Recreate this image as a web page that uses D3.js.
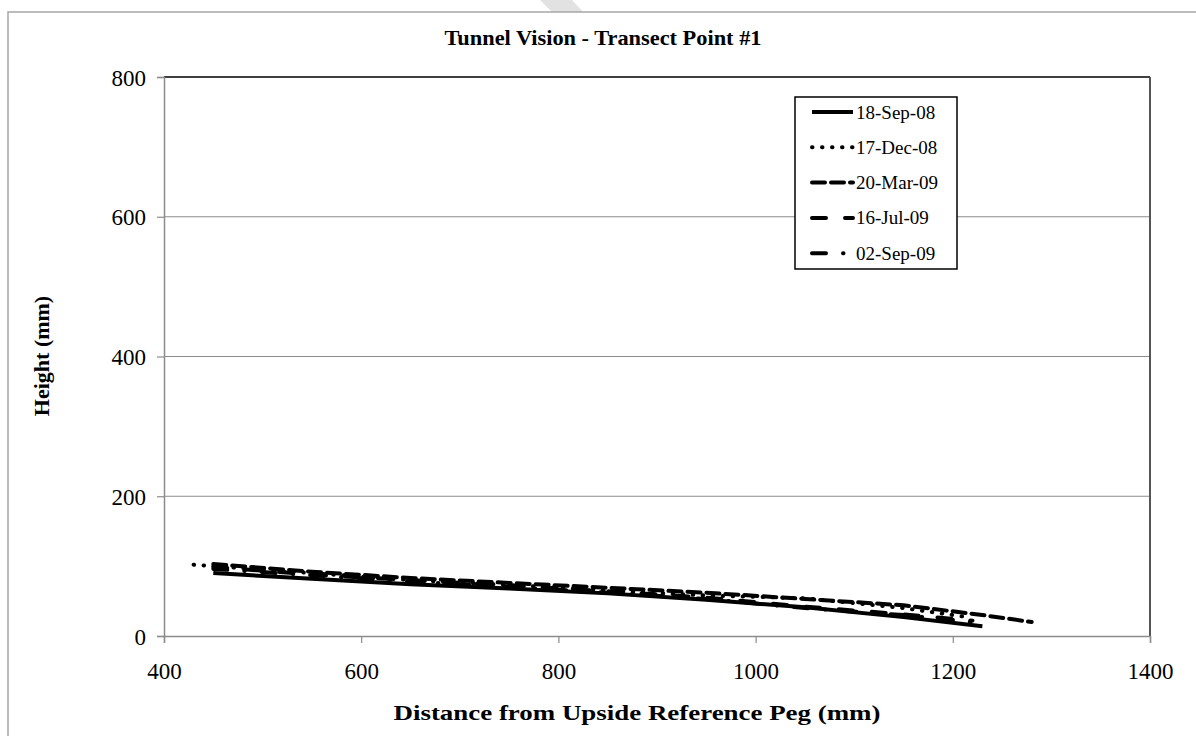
<!DOCTYPE html>
<html>
<head>
    <meta charset="utf-8">
    <script src="https://cdnjs.cloudflare.com/ajax/libs/d3/7.8.5/d3.min.js"></script>
    <style type="text/css">
        body { margin: 0; background: #fff; }
        svg text { font-family: "Liberation Serif", "Times New Roman", serif; fill: #000; }
    </style>
</head>
<body>
<script type="text/javascript">
    // series names, as in the legend
    var seriesNames = ["18-Sep-08", "17-Dec-08", "20-Mar-09", "16-Jul-09", "02-Sep-09"];

    // distance (mm) and height (mm)
    var sep08X = [450, 550, 650, 750, 850, 950, 1050, 1150, 1230];
    var sep08Y = [90, 82, 74, 68, 61, 52, 41, 27, 14];
    var dec08X = [430, 550, 650, 750, 850, 950, 1050, 1150, 1210];
    var dec08Y = [102, 90, 80, 73, 65, 58, 54, 40, 28];
    var mar09X = [450, 550, 650, 750, 850, 950, 1050, 1150, 1230, 1280];
    var mar09Y = [103, 92, 83, 76, 69, 62, 53, 44, 30, 20];
    var jul09X = [450, 550, 650, 750, 850, 950, 1050, 1150, 1220];
    var jul09Y = [99, 88, 80, 72, 64, 55, 42, 31, 22];
    var sepb09X = [450, 550, 650, 750, 850, 950, 1050, 1150, 1220];
    var sepb09Y = [96, 87, 78, 70, 62, 53, 40, 30, 20];

    var xTicks = [400, 600, 800, 1000, 1200, 1400];
    var yTicks = [0, 200, 400, 600, 800];

    var seriesX = [sep08X, dec08X, mar09X, jul09X, sepb09X];
    var seriesY = [sep08Y, dec08Y, mar09Y, jul09Y, sepb09Y];

    // line looks for each series (solid, dotted, dash-dash, long dash, dash-dot)
    var styles = [
        {dash: null, width: 4, cap: "butt"},
        {dash: "0.5 9.5", width: 4, cap: "round"},
        {dash: "13 6", width: 4, cap: "round"},
        {dash: "14 19", width: 4, cap: "round"},
        {dash: "14 17 0.5 17", width: 4, cap: "round"}
    ];

    var W = 1196, H = 736;
    var pLeft = 164, pRight = 1150, pTop = 77, pBottom = 636;

    var svg = d3.select("body").append("svg")
        .attr("width", W).attr("height", H);

    // faint watermark stripe peeking over the top edge
    svg.append("polygon")
        .attr("points", "540,0 572,0 583,12 552,12")
        .style("fill", "#e2e2e2");

    // outer chart frame
    svg.append("rect")
        .attr("x", 8).attr("y", 12)
        .attr("width", W + 10).attr("height", H + 10)
        .style("fill", "#fff")
        .style("stroke", "#a6a6a6").style("stroke-width", 1.5);

    var x = d3.scaleLinear().domain([400, 1400]).range([pLeft, pRight]);
    var y = d3.scaleLinear().domain([0, 800]).range([pBottom, pTop]);

    // gridlines
    svg.append("g")
        .selectAll("line")
        .data([200, 400, 600])
        .enter().append("line")
        .attr("x1", pLeft).attr("x2", pRight)
        .attr("y1", function(d) { return y(d); })
        .attr("y2", function(d) { return y(d); })
        .style("stroke", "#8c8c8c").style("stroke-width", 1);

    // plot area border: top black, right dark grey
    svg.append("line")
        .attr("x1", pLeft).attr("x2", pRight).attr("y1", pTop).attr("y2", pTop)
        .style("stroke", "#000").style("stroke-width", 1.5);
    svg.append("line")
        .attr("x1", pRight).attr("x2", pRight).attr("y1", pTop).attr("y2", pBottom)
        .style("stroke", "#555").style("stroke-width", 2);

    // axes
    var xAxis = d3.axisBottom(x).tickValues(xTicks).tickSize(7).tickFormat(d3.format("d"));
    var yAxis = d3.axisLeft(y).tickValues(yTicks).tickSize(7).tickFormat(d3.format("d"));

    var gx = svg.append("g").attr("transform", "translate(0," + pBottom + ")").call(xAxis);
    var gy = svg.append("g").attr("transform", "translate(" + pLeft + ",0)").call(yAxis);

    [gx, gy].forEach(function(g) {
        g.select(".domain").style("stroke", "#8c8c8c").style("stroke-width", 1.5);
        g.selectAll(".tick line").style("stroke", "#8c8c8c").style("stroke-width", 1.2);
        g.selectAll(".tick text")
            .style("font-family", "Liberation Serif")
            .style("font-size", "23px")
            .style("fill", "#000");
    });
    gx.selectAll(".tick text").attr("dy", null).attr("y", 43);
    gy.selectAll(".tick text").attr("x", -18).attr("dy", "0.35em");

    // series lines
    var line = d3.line()
        .x(function(d) { return x(d[0]); })
        .y(function(d) { return y(d[1]); });

    seriesNames.forEach(function(name, i) {
        var pts = seriesX[i].map(function(v, j) { return [v, seriesY[i][j]]; });
        var st = styles[i];
        svg.append("path")
            .datum(pts)
            .attr("d", line)
            .style("fill", "none")
            .style("stroke", "#000")
            .style("stroke-width", st.width)
            .style("stroke-linecap", st.cap)
            .style("stroke-linejoin", "round")
            .style("stroke-dasharray", st.dash);
    });

    // legend
    var lg = svg.append("g");
    lg.append("rect")
        .attr("x", 795).attr("y", 97).attr("width", 162).attr("height", 172)
        .style("fill", "#fff").style("stroke", "#000").style("stroke-width", 1.5);
    seriesNames.forEach(function(name, i) {
        var ry = 112 + i * 35.3;
        var st = styles[i];
        lg.append("line")
            .attr("x1", 812).attr("x2", 853)
            .attr("y1", ry).attr("y2", ry)
            .style("stroke", "#000")
            .style("stroke-width", st.width)
            .style("stroke-linecap", st.cap)
            .style("stroke-dasharray", st.dash);
        lg.append("text")
            .attr("x", 856).attr("y", ry + 6.5)
            .style("font-size", "19px")
            .text(name);
    });

    // titles
    svg.append("text")
        .attr("x", 603).attr("y", 45)
        .attr("text-anchor", "middle")
        .style("font-size", "22px").style("font-weight", "bold")
        .attr("textLength", 317).attr("lengthAdjust", "spacingAndGlyphs")
        .text("Tunnel Vision - Transect Point #1");

    svg.append("text")
        .attr("x", 637).attr("y", 720)
        .attr("text-anchor", "middle")
        .style("font-size", "22px").style("font-weight", "bold")
        .attr("textLength", 487).attr("lengthAdjust", "spacingAndGlyphs")
        .text("Distance from Upside Reference Peg (mm)");

    svg.append("text")
        .attr("transform", "translate(49,356) rotate(-90)")
        .attr("text-anchor", "middle")
        .style("font-size", "22px").style("font-weight", "bold")
        .text("Height (mm)");
</script>
</body>
</html>
